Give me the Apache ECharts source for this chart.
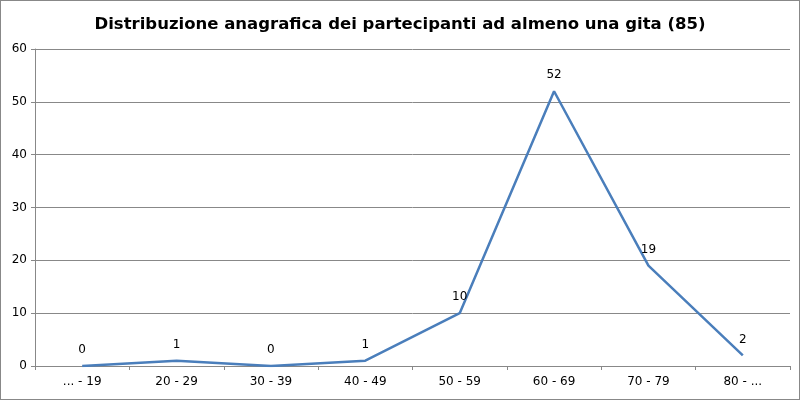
<!DOCTYPE html>
<html><head><meta charset="utf-8">
<script src="https://cdn.jsdelivr.net/npm/echarts@6/dist/echarts.min.js"></script>
<style>html,body{margin:0;padding:0;background:#fff}#c{width:800px;height:400px;box-sizing:border-box;border:1px solid #888}</style>
</head><body><div id="c"></div>
<script>
const categories = ['... - 19','20 - 29','30 - 39','40 - 49','50 - 59','60 - 69','70 - 79','80 - ...'];
const values = [0,1,0,1,10,52,19,2];
const titleText = 'Distribuzione anagrafica dei partecipanti ad almeno una gita (85)';
const FF = '"DejaVu Sans", Verdana, sans-serif';
const chart = echarts.init(document.getElementById('c'));
chart.setOption({
  animation:false,
  textStyle:{fontFamily:FF},
  title:{text:titleText,left:'center',top:10,textStyle:{fontFamily:FF,fontWeight:'bold',fontSize:16.5,color:'#000'}},
  grid:{left:34,right:9,top:48,bottom:33,containLabel:false},
  xAxis:{type:'category',data:categories,boundaryGap:true,
    axisLine:{lineStyle:{color:'#888'}},
    axisTick:{show:true,length:4,lineStyle:{color:'#888'}},
    axisLabel:{fontFamily:FF,fontSize:12,color:'#000',margin:10}},
  yAxis:{type:'value',min:0,max:60,interval:10,
    axisLine:{show:true,lineStyle:{color:'#888'}},
    axisTick:{show:true,length:4,lineStyle:{color:'#888'}},
    splitLine:{lineStyle:{color:'#888'}},
    axisLabel:{fontFamily:FF,fontSize:12,color:'#000',margin:8}},
  series:[{type:'line',data:values,symbol:'circle',symbolSize:0.01,showSymbol:true,
    itemStyle:{color:'#4a7ebb'},
    lineStyle:{color:'#4a7ebb',width:2.5},
    label:{show:true,position:'top',distance:10,fontFamily:FF,fontSize:12,color:'#000'}}]
});
</script></body></html>
